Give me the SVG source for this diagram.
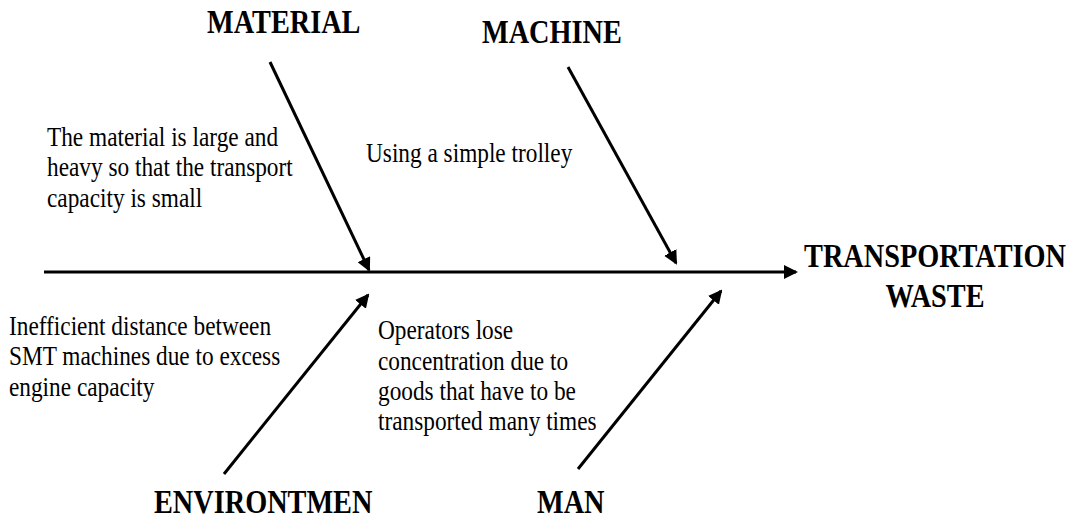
<svg xmlns="http://www.w3.org/2000/svg" width="1071" height="521" viewBox="0 0 1071 521">
  <style>
    .head { font-family: 'Liberation Serif', 'DejaVu Serif', serif; font-weight: bold; font-size: 28.3px; fill: #000; }
    .note { font-family: 'Liberation Serif', 'DejaVu Serif', serif; font-size: 23.3px; fill: #000; }
    .bone { stroke: #000; stroke-width: 3; fill: none; marker-end: url(#tip); }
  </style>
  <defs>
    <marker id="tip" viewBox="0 0 14 14" refX="12" refY="7" markerWidth="14" markerHeight="14" markerUnits="userSpaceOnUse" orient="auto">
      <path d="M0,0 L14,7 L0,14 z" fill="#000"/>
    </marker>
  </defs>
  <rect width="1071" height="521" fill="#fff"/>

  <!-- spine and cause bones -->
  <g id="connectors">
    <line class="bone" x1="44" y1="272" x2="796" y2="272"/>
    <line class="bone" x1="270" y1="62" x2="369" y2="270"/>
    <line class="bone" x1="568" y1="67" x2="676" y2="263"/>
    <line class="bone" x1="224" y1="474" x2="368" y2="295"/>
    <line class="bone" x1="578" y1="469" x2="721" y2="291"/>
  </g>

  <g id="effect">
    <text class="head" text-anchor="middle" transform="translate(935,267) scale(1,1.16)"><tspan x="0" y="0">TRANSPORTATION</tspan><tspan x="0" y="34.5">WASTE</tspan></text>
  </g>

  <g id="material">
    <text class="head" transform="translate(207,33) scale(1,1.16)">MATERIAL</text>
  </g>
  <g id="machine">
    <text class="head" transform="translate(482,43) scale(1,1.16)">MACHINE</text>
  </g>
  <g id="environment">
    <text class="head" transform="translate(154,513) scale(1,1.16)">ENVIRONTMEN</text>
  </g>
  <g id="man">
    <text class="head" transform="translate(537,513) scale(1,1.16)">MAN</text>
  </g>

  <g id="cause-material">
    <text class="note" transform="translate(47,145.5) scale(1,1.16)"><tspan x="0" y="0">The material is large and</tspan><tspan x="0" y="26.3">heavy so that the transport</tspan><tspan x="0" y="52.6">capacity is small</tspan></text>
  </g>
  <g id="cause-machine">
    <text class="note" transform="translate(366,162) scale(1,1.16)">Using a simple trolley</text>
  </g>
  <g id="cause-environment">
    <text class="note" transform="translate(9,335) scale(1,1.16)"><tspan x="0" y="0">Inefficient distance between</tspan><tspan x="0" y="26.3">SMT machines due to excess</tspan><tspan x="0" y="52.6">engine capacity</tspan></text>
  </g>
  <g id="cause-man">
    <text class="note" transform="translate(378,339) scale(1,1.16)"><tspan x="0" y="0">Operators lose</tspan><tspan x="0" y="26.7">concentration due to</tspan><tspan x="0" y="52.6">goods that have to be</tspan><tspan x="0" y="78.4">transported many times</tspan></text>
  </g>
</svg>
